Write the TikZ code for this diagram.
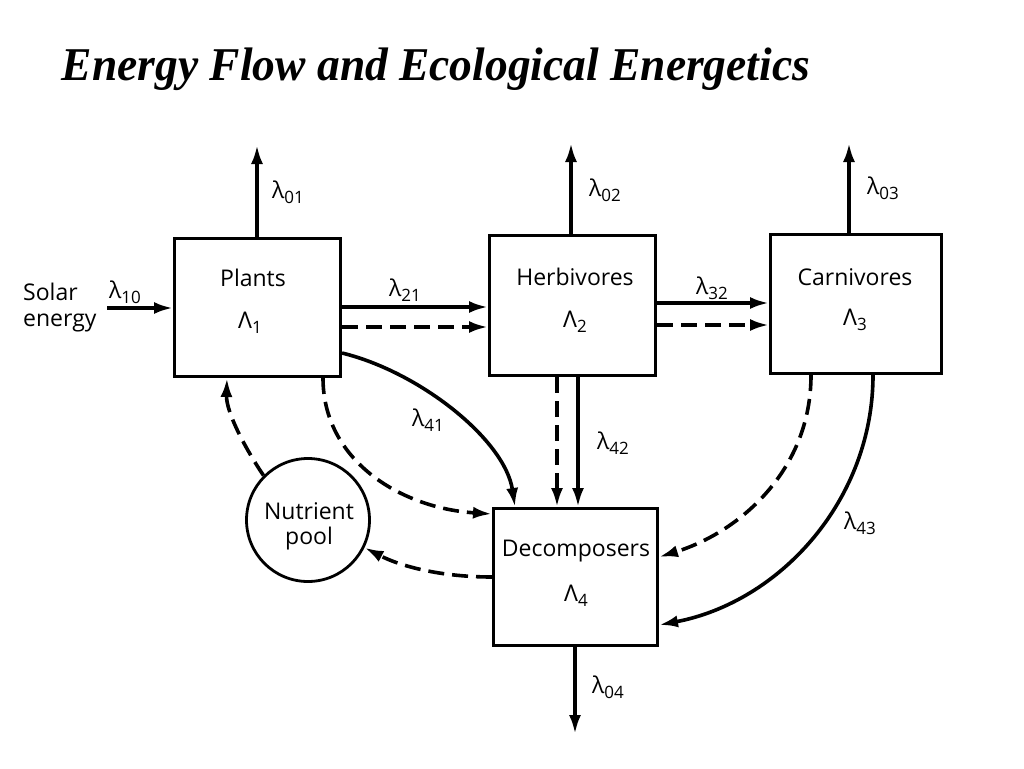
\documentclass[tikz,border=0pt]{standalone}
\usepackage{fontspec}
\usepackage{graphicx}
\setmainfont{Open Sans}
\newfontfamily\titlefont{Liberation Serif}
\usetikzlibrary{arrows.meta}
\newcommand\lsub[2]{#1\raisebox{-0.4ex}{\fontsize{17}{17}\selectfont #2}}
\begin{document}
\begin{tikzpicture}[x=1pt,y=-1pt,
  box/.style={draw, line width=3pt, inner sep=0pt},
  pooln/.style={draw, circle, line width=2.8pt, minimum size=123pt, inner sep=0pt},
  txt/.style={font=\fontsize{23}{24}\selectfont, inner sep=0pt},
  lam/.style={font=\fontsize{23}{24}\selectfont, inner sep=0pt},
  flow/.style={line width=3.6pt, -{Latex[length=19pt,width=12pt]}},
  dflow/.style={flow, dash pattern=on 16pt off 8pt}]
\path[use as bounding box, fill=white] (0,0) rectangle (1024,768);

\node[inner sep=0pt] (title) at (436,69) {\resizebox{748pt}{\height}{\titlefont\bfseries\itshape\fontsize{47}{47}\selectfont Energy Flow and Ecological Energetics}};

% boxes
\node[box, minimum width=166pt, minimum height=138pt] (plants) at (257.5,307.5) {};
\node[box, minimum width=166pt, minimum height=140pt] (herb) at (572.5,305.5) {};
\node[box, minimum width=171pt, minimum height=139pt] (carn) at (856,304) {};
\node[box, minimum width=164pt, minimum height=137pt] (dec) at (575.5,577) {};
\node[pooln] (pool) at (308,520) {};

% box texts
\node[txt] (tplants) at (253,278) {Plants};
\node[txt] (lplants) at (250,323) {\lsub{Λ}{1}};
\node[txt] (therb) at (575,277) {Herbivores};
\node[txt] (lherb) at (575,322) {\lsub{Λ}{2}};
\node[txt] (tcarn) at (855,277) {Carnivores};
\node[txt] (lcarn) at (855,320) {\lsub{Λ}{3}};
\node[txt] (tdec) at (576,551) {Decomposers};
\node[txt] (ldec) at (576,596) {\lsub{Λ}{4}};
\node[txt] (tpool1) at (309,511) {Nutrient};
\node[txt] (tpool2) at (309,539) {pool};
\node[txt, align=left, anchor=west] (solar) at (23,308) {Solar\\[2pt]energy};

% free ends
\coordinate (sun) at (107,308);
\coordinate (o1) at (257,145);
\coordinate (o2) at (571,143);
\coordinate (o3) at (849,143);
\coordinate (o4) at (575,734);

% outputs
\draw[flow] (plants.north -| o1) -- (o1);
\draw[flow] (herb.north -| o2) -- (o2);
\draw[flow] (carn.north -| o3) -- (o3);
\draw[flow] (dec.south -| o4) -- (o4);

% solar input
\draw[flow] (sun) -- (sun -| plants.west);

% plants -> herbivores
\draw[flow] (plants.east |- 0,307) -- (herb.west |- 0,307);
\draw[dflow] (plants.east |- 0,327) -- (herb.west |- 0,327);
% herbivores -> carnivores
\draw[flow] (herb.east |- 0,303) -- (carn.west |- 0,303);
\draw[dflow] (herb.east |- 0,325) -- (carn.west |- 0,325);
% herbivores -> decomposers
\draw[dflow] (herb.south -| 557,0) -- (dec.north -| 557,0);
\draw[flow] (herb.south -| 578,0) -- (dec.north -| 578,0);
% plants -> decomposers
\draw[flow] (plants.east |- 0,353) .. controls (420,372) and (505,440) .. (dec.north -| 515,0);
\draw[dflow] (plants.south -| 323,0) .. controls (323,460) and (400,508) .. (dec.west |- 0,514);
% carnivores -> decomposers
\draw[dflow] (carn.south -| 811,0) .. controls (811,470) and (740,532) .. (dec.east |- 0,557);
\draw[flow] (carn.south -| 873,0) .. controls (873,500) and (780,602) .. (dec.east |- 0,625);
% decomposers -> pool -> plants
\draw[dflow] (dec.west |- 0,577) .. controls (440,577) and (400,566) .. (pool.-26);
\draw[dflow] (pool.135) .. controls (245,448) and (226,412) .. (plants.south -| 227,0);

% rate labels
\node[lam] (l10) at (125,292) {\lsub{λ}{10}};
\node[lam] (l01) at (288,192) {\lsub{λ}{01}};
\node[lam] (l21) at (405,290) {\lsub{λ}{21}};
\node[lam] (l02) at (605,190) {\lsub{λ}{02}};
\node[lam] (l32) at (712,288) {\lsub{λ}{32}};
\node[lam] (l03) at (883,188) {\lsub{λ}{03}};
\node[lam] (l41) at (428,420) {\lsub{λ}{41}};
\node[lam] (l42) at (613,443) {\lsub{λ}{42}};
\node[lam] (l43) at (860,523) {\lsub{λ}{43}};
\node[lam] (l04) at (608,687) {\lsub{λ}{04}};
\end{tikzpicture}
\end{document}
